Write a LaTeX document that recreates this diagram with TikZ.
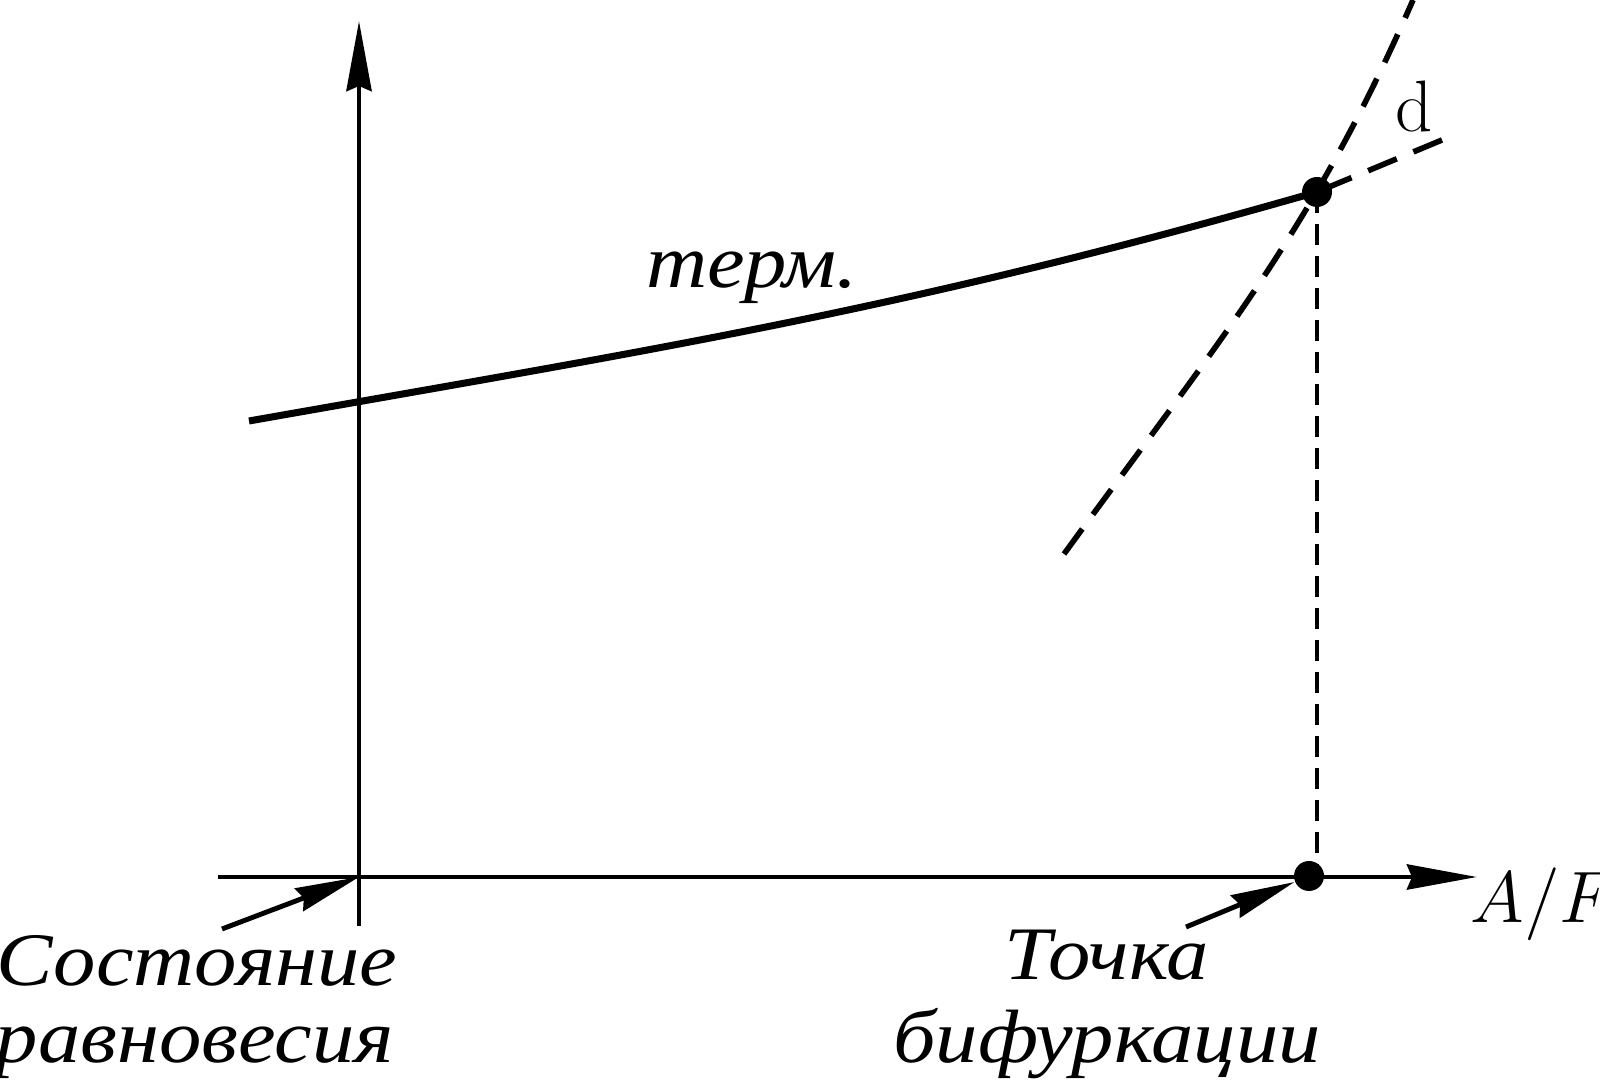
\documentclass[tikz,border=0pt]{standalone}
\usepackage[no-math]{fontspec}
\setmainfont{Liberation Serif}
\newfontfamily\capfont{Liberation Serif}[FakeStretch=1.12]
\usetikzlibrary{arrows.meta}

\begin{document}
\begin{tikzpicture}[
    axis/.style={-{Stealth[length=7mm, width=2.5mm, inset=0.5mm]}, line width=1.4pt},
    pointer/.style={-{Stealth[length=6.4mm, width=2.4mm, inset=0.5mm]}, line width=1.4pt},
    branch/.style={line width=2pt},
    guide/.style={line width=1.6pt, dash pattern=on 3.1mm off 1.8mm},
    drop/.style={line width=1.4pt, dash pattern=on 2.1mm off 1.1mm},
    dot/.style={circle, fill, inner sep=0pt, minimum size=3mm},
    caption/.style={font=\fontsize{21.5}{21.5}\selectfont\capfont\itshape, inner sep=0pt, anchor=base},
    symbol/.style={font=\fontsize{20.5}{22}\selectfont, inner sep=0pt}
]
\useasboundingbox (0,0) rectangle (16,10.8);

% Axes
\coordinate (origin) at (3.59,2.03);
\coordinate (xstart) at (2.18,2.03);
\coordinate (xend) at (14.77,2.03);
\coordinate (ystart) at (3.59,1.54);
\coordinate (yend) at (3.59,10.59);
\draw[axis] (xstart) -- (xend);
\draw[axis] (ystart) -- (yend);

% Points
\node[dot] (root) at (13.09,2.04) {};
\node[dot] (crit) at (13.17,8.88) {};

% Branches
\coordinate (thermstart) at (2.49,6.59);
\draw[branch] (thermstart) to[out=10, in=196] (crit.center);
\coordinate (steeplow) at (10.64,5.26);
\coordinate (steephigh) at (14.13,10.8);
\draw[guide] (steeplow) to[out=54, in=246.5] (steephigh);
\coordinate (shallowend) at (14.42,9.40);
\draw[guide] (shallowend) -- (crit.center);
\draw[drop] (crit.center) -- (crit |- root);

% Labels
\node[caption] (therm) at (7.52,7.92) {терм.};
\node[symbol, anchor=base] (dlabel) at (14.14,9.48) {$\mathrm{d}$};
\node[symbol, anchor=base west] (xlabel) at (14.70,1.57) {$A/F$};
\node[caption] (eqlabel) at (1.97,0.94) {Состояние};
\node[caption] (eqlabel2) at (1.95,0.18) {равновесия};
\node[caption] (biflabel) at (11.07,1.00) {Точка};
\node[caption] (biflabel2) at (11.07,0.18) {бифуркации};

% Pointers
\coordinate (eqtail) at (2.22,1.51);
\coordinate (biftail) at (11.86,1.53);
\draw[pointer] (eqtail) -- (origin);
\draw[pointer] (biftail) -- (root);

\end{tikzpicture}
\end{document}
